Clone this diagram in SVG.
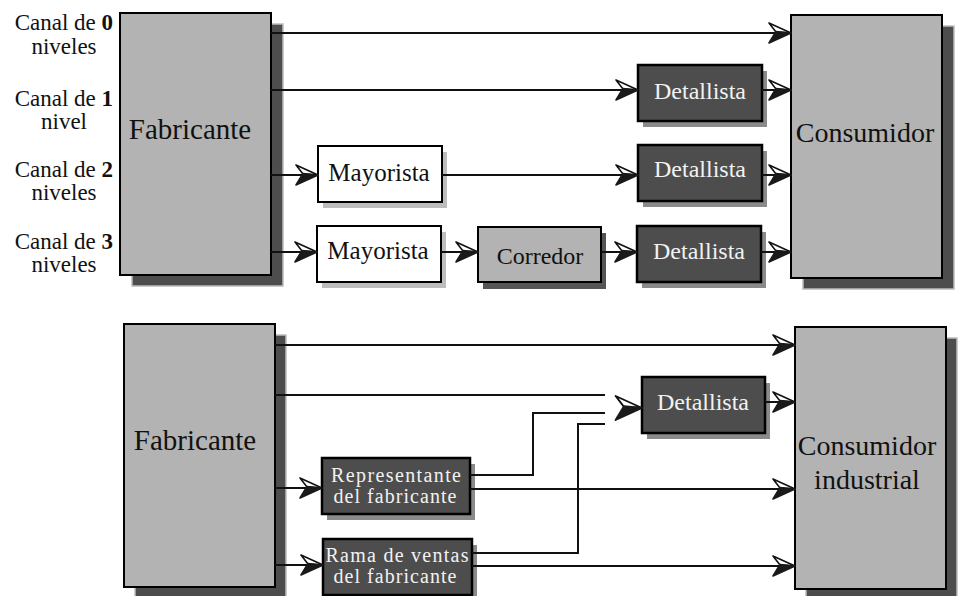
<svg xmlns="http://www.w3.org/2000/svg" width="962" height="596" viewBox="0 0 962 596">
<style>
.big{fill:#b3b3b3;stroke:#000;stroke-width:2}
.bigsh{fill:#4d4d4d;stroke:#bdbdbd;stroke-width:1.5}
.wht{fill:#fff;stroke:#000;stroke-width:2}
.whtsh{fill:#bdbdbd}
.gry{fill:#b3b3b3;stroke:#000;stroke-width:2}
.grysh{fill:#555}
.drk{fill:#4d4d4d;stroke:#000;stroke-width:2.5}
.drksh{fill:#8a8a8a}
text{font-family:'Liberation Serif','DejaVu Serif',serif}
.t{fill:#111}
.tw{fill:#f2f2f2}
.lbl{font-size:23px;fill:#111}
.c{fill:none;stroke:#111;stroke-width:2}
</style>
<defs>
<g id="ah">
<path d="M-22,-10 L0,0 L-15,-1 Z" fill="#fff" stroke="#111" stroke-width="1.6" stroke-linejoin="round"/>
<path d="M-15,-1.5 L0,0 L-22,10 Z" fill="#1a1a1a" stroke="#1a1a1a" stroke-width="1.6" stroke-linejoin="round"/>
</g>
</defs>

<g id="labels">
<text class="lbl" x="113" y="30" text-anchor="end">Canal de <tspan font-weight="bold">0</tspan></text>
<text class="lbl" x="64" y="54" text-anchor="middle">niveles</text>
<text class="lbl" x="113" y="106" text-anchor="end">Canal de <tspan font-weight="bold">1</tspan></text>
<text class="lbl" x="64" y="129" text-anchor="middle">nivel</text>
<text class="lbl" x="113" y="177" text-anchor="end">Canal de <tspan font-weight="bold">2</tspan></text>
<text class="lbl" x="64" y="200" text-anchor="middle">niveles</text>
<text class="lbl" x="113" y="249" text-anchor="end">Canal de <tspan font-weight="bold">3</tspan></text>
<text class="lbl" x="64" y="272" text-anchor="middle">niveles</text>
</g>

<g id="fabricante1">
<rect class="bigsh" x="132" y="24" width="151" height="262"/>
<rect class="big" x="120" y="13" width="151" height="262"/>
<text class="t" x="190" y="139" font-size="29" text-anchor="middle">Fabricante</text>
</g>
<g id="consumidor1">
<rect class="bigsh" x="803" y="26" width="151" height="263"/>
<rect class="big" x="791" y="15" width="151" height="263"/>
<text class="t" x="865" y="142" font-size="28" text-anchor="middle">Consumidor</text>
</g>
<g id="mayorista1">
<rect class="whtsh" x="323" y="152" width="124" height="56"/>
<rect class="wht" x="318" y="146" width="124" height="56"/>
<text class="t" x="379" y="181" font-size="25" text-anchor="middle">Mayorista</text>
</g>
<g id="mayorista2">
<rect class="whtsh" x="322" y="232" width="124" height="56"/>
<rect class="wht" x="317" y="226" width="124" height="56"/>
<text class="t" x="378" y="259" font-size="25" text-anchor="middle">Mayorista</text>
</g>
<g id="corredor">
<rect class="grysh" x="483" y="233" width="123" height="56"/>
<rect class="gry" x="478" y="227" width="123" height="55"/>
<text class="t" x="540" y="264" font-size="24" text-anchor="middle">Corredor</text>
</g>
<g id="detallista1">
<rect class="drksh" x="643" y="71" width="124" height="56"/>
<rect class="drk" x="638" y="65" width="124" height="56"/>
<text class="tw" x="700" y="99" font-size="24" text-anchor="middle">Detallista</text>
</g>
<g id="detallista2">
<rect class="drksh" x="643" y="151" width="124" height="56"/>
<rect class="drk" x="638" y="145" width="124" height="56"/>
<text class="tw" x="700" y="177" font-size="24" text-anchor="middle">Detallista</text>
</g>
<g id="detallista3">
<rect class="drksh" x="642" y="232" width="124" height="56"/>
<rect class="drk" x="637" y="226" width="124" height="56"/>
<text class="tw" x="699" y="259" font-size="24" text-anchor="middle">Detallista</text>
</g>

<g id="fabricante2">
<rect class="bigsh" x="135" y="335" width="151" height="263"/>
<rect class="big" x="124" y="324" width="151" height="263"/>
<text class="t" x="195" y="450" font-size="29" text-anchor="middle">Fabricante</text>
</g>
<g id="consumidorIndustrial">
<rect class="bigsh" x="806" y="338" width="151" height="262"/>
<rect class="big" x="795" y="327" width="151" height="262"/>
<text class="t" x="867" y="455" font-size="28" text-anchor="middle">Consumidor</text>
<text class="t" x="867" y="489" font-size="28" text-anchor="middle">industrial</text>
</g>
<g id="representante">
<rect class="drksh" x="327" y="464" width="148" height="56"/>
<rect class="drk" x="322" y="458" width="148" height="56"/>
<text class="tw" x="396" y="482" font-size="20" text-anchor="middle" textLength="130" lengthAdjust="spacing">Representante</text>
<text class="tw" x="395" y="503" font-size="20" text-anchor="middle" textLength="123" lengthAdjust="spacing">del fabricante</text>
</g>
<g id="rama">
<rect class="drksh" x="328" y="545" width="149" height="56"/>
<rect class="drk" x="323" y="539" width="149" height="56"/>
<text class="tw" x="397" y="562" font-size="20" text-anchor="middle" textLength="143" lengthAdjust="spacing">Rama de ventas</text>
<text class="tw" x="395" y="583" font-size="20" text-anchor="middle" textLength="123" lengthAdjust="spacing">del fabricante</text>
</g>
<g id="detallista4">
<rect class="drksh" x="647" y="383" width="123" height="56"/>
<rect class="drk" x="642" y="377" width="123" height="56"/>
<text class="tw" x="703" y="410" font-size="24" text-anchor="middle">Detallista</text>
</g>

<g id="connectors">
<path class="c" d="M271,33 H790"/>
<path class="c" d="M271,90 H637"/>
<path class="c" d="M762,90 H790"/>
<path class="c" d="M271,175 H317"/>
<path class="c" d="M442,175 H637"/>
<path class="c" d="M762,175 H790"/>
<path class="c" d="M271,252 H316"/>
<path class="c" d="M441,252 H477"/>
<path class="c" d="M601,252 H636"/>
<path class="c" d="M761,252 H790"/>
<use href="#ah" transform="translate(791,33)"/>
<use href="#ah" transform="translate(638,90)"/>
<use href="#ah" transform="translate(791,90)"/>
<use href="#ah" transform="translate(318,175)"/>
<use href="#ah" transform="translate(638,175)"/>
<use href="#ah" transform="translate(791,175)"/>
<use href="#ah" transform="translate(317,252)"/>
<use href="#ah" transform="translate(478,252)"/>
<use href="#ah" transform="translate(637,252)"/>
<use href="#ah" transform="translate(791,252)"/>

<path class="c" d="M275,345 H794"/>
<path class="c" d="M275,395 H605"/>
<path class="c" d="M275,488 H321"/>
<path class="c" d="M275,565 H322"/>
<path class="c" d="M470,475 H533 V413 H605"/>
<path class="c" d="M470,489 H794"/>
<path class="c" d="M472,553 H578 V424 H605"/>
<path class="c" d="M472,566 H794"/>
<path class="c" d="M765,402 H794"/>
<use href="#ah" transform="translate(795,345)"/>
<use href="#ah" transform="translate(322,488)"/>
<use href="#ah" transform="translate(323,565)"/>
<use href="#ah" transform="translate(795,489)"/>
<use href="#ah" transform="translate(795,566)"/>
<use href="#ah" transform="translate(795,402)"/>
<use href="#ah" transform="translate(642,408) scale(1.2)"/>
</g>
</svg>
